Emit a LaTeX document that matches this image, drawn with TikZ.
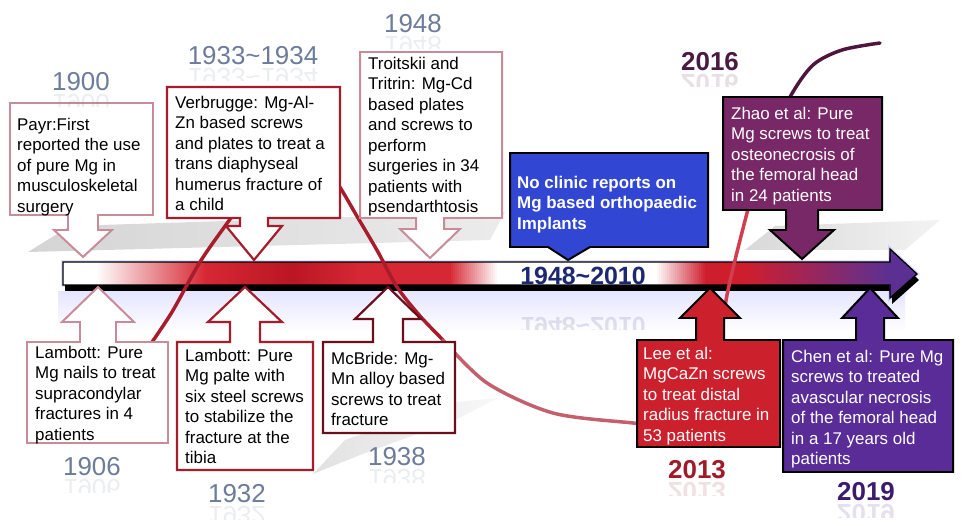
\documentclass[tikz,border=0pt]{standalone}
\usepackage{fontspec}
\setmainfont{Liberation Sans}
\definecolor{lightrose}{RGB}{200,140,152}
\definecolor{darkred}{RGB}{165,28,42}
\definecolor{maroon}{RGB}{105,16,28}
\definecolor{noblue}{RGB}{50,70,212}
\definecolor{zhaopurple}{RGB}{120,40,102}
\definecolor{leered}{RGB}{204,32,44}
\definecolor{chenpurple}{RGB}{90,44,152}
\definecolor{barred}{RGB}{214,40,52}
\definecolor{bardark}{RGB}{186,22,36}
\definecolor{barred2}{RGB}{206,30,46}
\definecolor{barpurple}{RGB}{92,48,146}
\definecolor{yeargray}{RGB}{108,124,154}
\definecolor{y2016}{RGB}{74,26,66}
\definecolor{y2013}{RGB}{160,26,40}
\definecolor{y2019}{RGB}{60,26,110}
\definecolor{navy}{RGB}{28,40,112}
\definecolor{curveA}{RGB}{168,28,44}
\definecolor{curveB}{RGB}{196,96,110}
\definecolor{curveC}{RGB}{210,62,78}
\definecolor{curveD}{RGB}{78,22,60}
\newcommand\mirroryear[5]{\begin{scope}[shift={(#1,#2)}]\clip (-120,-11) rectangle (120,4);\begin{scope}[yscale=-1]\node[#3,transform shape,opacity=.13] (#5) at (0,0) {#4};\end{scope}\end{scope}}
% gradient made of thin solid slices: #1 left x, #2 right x, #3 left colour, #4 right colour
\newcommand\gradseg[4]{%
  \pgfmathtruncatemacro\gsn{(#2-#1)/2}%
  \foreach \gi in {0,...,\gsn}{%
    \pgfmathsetmacro\gp{100*\gi/max(\gsn,1)}%
    \pgfmathsetmacro\gx{#1+2*\gi}%
    \fill[#4!\gp!#3] (\gx,262) rectangle ({\gx+2.4},285);}}
\begin{document}
\begin{tikzpicture}[x=1bp,y=-1bp,
  txt/.style={anchor=north west, inner sep=0pt, align=left, font=\fontsize{17}{20.5}\selectfont, text=black},
  wtxt/.style={txt, text=white},
  yr/.style={inner sep=0pt, font=\fontsize{26}{30}\selectfont, text=yeargray},
  yrb/.style={inner sep=0pt, font=\fontsize{26}{30}\selectfont\bfseries},
  lightbox/.style={draw=lightrose, line width=2pt, fill=white},
  redbox/.style={draw=darkred, line width=2.2pt, fill=white},
  maroonbox/.style={draw=maroon, line width=2.2pt, fill=white},
  blackbox/.style={draw=black, line width=2pt},
  curve/.style={line width=3.5pt, line cap=round}
]
\useasboundingbox (0,0) rectangle (965,526);
\fill[white] (0,0) rectangle (965,526);

% shadows
\shade[left color=gray!55, right color=gray!25, opacity=.6] (28,252) -- (70,226) -- (505,212) -- (490,240) -- cycle;
\shade[left color=gray!50, right color=gray!15, opacity=.6] (745,250) -- (775,226) -- (940,220) -- (905,250) -- cycle;
\shade[left color=gray!45, right color=gray!10, opacity=.5] (313,474) -- (345,440) -- (455,402) -- (498,398) -- (455,420) -- (360,455) -- cycle;

% reflection band under bar
\shade[top color=blue!10, bottom color=white] (58,292) rectangle (905,332);

% main timeline arrow
\draw[blue!30, line width=4pt, opacity=.4] (63,262) -- (890,262) -- (890,249) -- (917,274) -- (890,298) -- (890,285) -- (63,285) -- cycle;
\fill[black, shift={(2,6)}] (63,262) -- (890,262) -- (890,249) -- (917,274) -- (890,298) -- (890,285) -- (63,285) -- cycle;
\fill[white] (63,262) rectangle (96,285);
\gradseg{95}{205}{white}{barred}
\gradseg{205}{291}{barred}{bardark}
\gradseg{291}{361}{bardark}{barred}
\fill[barred] (361,262) rectangle (451,285);
\gradseg{449}{497}{barred}{white}
\fill[white] (497,262) rectangle (656,285);
\gradseg{655}{705}{white}{barred2}
\fill[barred2] (705,262) rectangle (746,285);
\gradseg{745}{889}{barred2}{barpurple}
\fill[barpurple] (889,262) -- (890,249) -- (917,274) -- (890,298) -- (889,285) -- cycle;
\draw[black, line width=1.3pt, line join=miter] (63,262) -- (890,262) -- (890,249) -- (917,274) -- (890,298) -- (890,285) -- (63,285) -- cycle;
\node[inner sep=0pt, font=\fontsize{25}{30}\selectfont\bfseries, text=navy] (span) at (583,276) {1948\textasciitilde2010};
\mirroryear{583}{326}{inner sep=0pt, font=\fontsize{25}{30}\selectfont\bfseries, text=navy}{1948\textasciitilde2010}{spanr}

% trend curve
\draw[curve, curveA] plot[smooth] coordinates {(150,345) (172,312) (200,262) (228,222) (256,184) (285,156) (312,158) (335,180) (358,218) (378,252) (397,287) (420,316) (443,340)};
\draw[curve, curveB] plot[smooth] coordinates {(443,340) (487,383) (553,413) (633,423) (690,428)};
\draw[curve, curveC] plot[smooth] coordinates {(690,428) (712,395) (720,350) (727,295) (747,213) (765,150)};
\draw[curve, curveD] plot[smooth] coordinates {(765,150) (790,97) (813,65) (842,50) (880,43)};

% top callouts
\draw[lightbox] (10,103) -- (153,103) -- (153,215) -- (98,215) -- (98,230) -- (112,230) -- (83,257) -- (54,230) -- (68,230) -- (68,215) -- (10,215) -- cycle;
\draw[redbox] (167,87) -- (340,87) -- (340,218) -- (268,218) -- (268,226) -- (282,226) -- (254,260) -- (226,226) -- (240,226) -- (240,218) -- (167,218) -- cycle;
\draw[lightbox] (360,52) -- (502,52) -- (502,218) -- (444,218) -- (444,229) -- (460,229) -- (430,258) -- (400,229) -- (416,229) -- (416,218) -- (360,218) -- cycle;
\draw[blackbox, fill=noblue] (510,153) -- (708,153) -- (708,247) -- (590,247) -- (568,260) -- (548,247) -- (510,247) -- cycle;
\draw[blackbox, fill=zhaopurple] (723,97) -- (882,97) -- (882,210) -- (818,210) -- (818,230) -- (834,230) -- (802,259) -- (770,230) -- (786,230) -- (786,210) -- (723,210) -- cycle;

% bottom callouts
\draw[lightbox] (27,443) -- (27,342) -- (80,342) -- (80,322) -- (62,322) -- (98,287) -- (134,322) -- (116,322) -- (116,342) -- (168,342) -- (168,443) -- cycle;
\draw[redbox] (177,470) -- (177,342) -- (230,342) -- (230,322) -- (208,322) -- (245,287) -- (282,322) -- (260,322) -- (260,342) -- (313,342) -- (313,470) -- cycle;
\draw[maroonbox] (323,433) -- (323,342) -- (373,342) -- (373,319) -- (355,319) -- (388,287) -- (421,319) -- (403,319) -- (403,342) -- (455,342) -- (455,433) -- cycle;
\draw[blackbox, fill=leered] (637,447) -- (637,340) -- (696,340) -- (696,318) -- (680,318) -- (710,288) -- (740,318) -- (724,318) -- (724,340) -- (780,340) -- (780,447) -- cycle;
\draw[blackbox, fill=chenpurple] (783,472) -- (783,340) -- (856,340) -- (856,318) -- (842,318) -- (870,288) -- (898,318) -- (884,318) -- (884,340) -- (953,340) -- (953,472) -- cycle;

% texts
\node[txt] (tpayr) at (17,118) {Payr:First\\reported the use\\of pure Mg in\\musculoskeletal\\surgery};
\node[txt] (tverb) at (175,96) {Verbrugge: Mg-Al-\\Zn based screws\\and plates to treat a\\trans diaphyseal\\humerus fracture of\\a child};
\node[txt] (ttroi) at (368,57) {Troitskii and\\Tritrin: Mg-Cd\\based plates\\and screws to\\perform\\surgeries in 34\\patients with\\psendarthtosis};
\node[wtxt, font=\fontsize{17}{20.5}\selectfont\bfseries] (tblue) at (517,176) {No clinic reports on\\Mg based orthopaedic\\Implants};
\node[wtxt] (tzhao) at (731,107) {Zhao et al: Pure\\Mg screws to treat\\osteonecrosis of\\the femoral head\\in 24 patients};
\node[txt] (tl06) at (35,346) {Lambott: Pure\\Mg nails to treat\\supracondylar\\fractures in 4\\patients};
\node[txt] (tl32) at (185,349) {Lambott: Pure\\Mg palte with\\six steel screws\\to stabilize the\\fracture at the\\tibia};
\node[txt] (tmcb) at (331,352) {McBride: Mg-\\Mn alloy based\\screws to treat\\fracture};
\node[wtxt] (tlee) at (643,347) {Lee et al:\\MgCaZn screws\\to treat distal\\radius fracture in\\53 patients};
\node[wtxt] (tchen) at (791,350) {Chen et al: Pure Mg\\screws to treated\\avascular necrosis\\of the femoral head\\in a 17 years old\\patients};

% years
\node[yr] (y1900) at (81,82) {1900};
\mirroryear{81}{103}{yr}{1900}{r1900}
\node[yr] (y1933) at (253,56) {1933\textasciitilde1934};
\mirroryear{253}{77}{yr}{1933\textasciitilde1934}{r1933}
\node[yr] (y1948) at (413,24) {1948};
\mirroryear{413}{45}{yr}{1948}{r1948}
\node[yrb, text=y2016] (y2016) at (710,62) {2016};
\mirroryear{710}{83}{yrb, text=y2016}{2016}{r2016}
\node[yr] (y1906) at (92,467) {1906};
\mirroryear{92}{488}{yr}{1906}{r1906}
\node[yr] (y1932) at (237,494) {1932};
\mirroryear{237}{515}{yr}{1932}{r1932}
\node[yr] (y1938) at (397,457) {1938};
\mirroryear{397}{478}{yr}{1938}{r1938}
\node[yrb, text=y2013] (y2013) at (697,470) {2013};
\mirroryear{697}{491}{yrb, text=y2013}{2013}{r2013}
\node[yrb, text=y2019] (y2019) at (866,492) {2019};
\mirroryear{866}{513}{yrb, text=y2019}{2019}{r2019}
\end{tikzpicture}
\end{document}
